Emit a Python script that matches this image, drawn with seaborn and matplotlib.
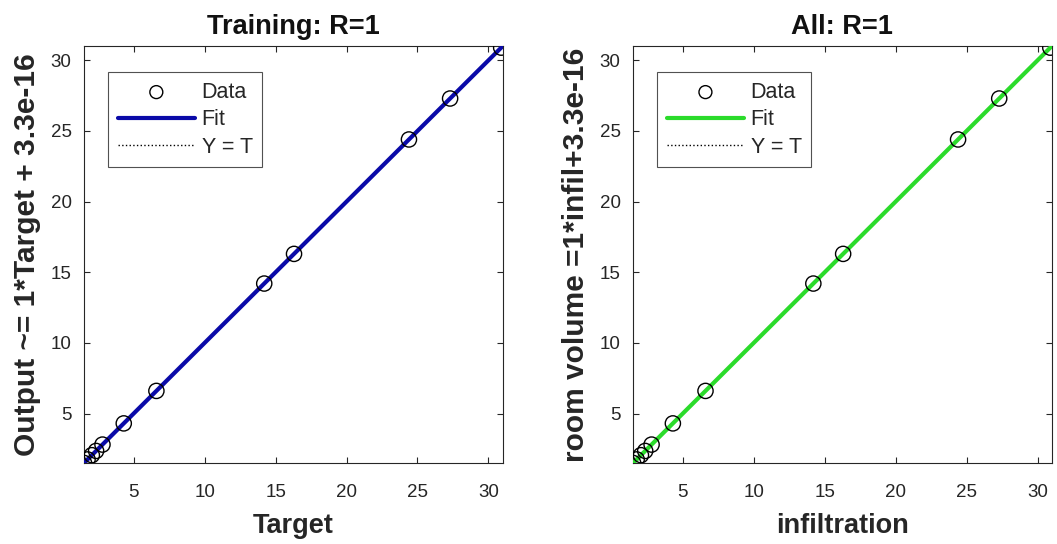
import numpy as np
import pandas as pd
import seaborn as sns
import matplotlib
matplotlib.use("Agg")
import matplotlib.pyplot as plt

# values (outputs equal targets, R=1)
targets = [1.5, 1.75, 2.05, 2.35, 2.8, 4.3, 6.6, 14.2, 16.3, 24.4, 27.3, 30.9]
outputs = [1.5, 1.75, 2.05, 2.35, 2.8, 4.3, 6.6, 14.2, 16.3, 24.4, 27.3, 30.9]
ticks = [5, 10, 15, 20, 25, 30]
titles = ["Training: R=1", "All: R=1"]
xlabels = ["Target", "infiltration"]
ylabels = ["Output ~= 1*Target + 3.3e-16", "room volume =1*infil+3.3e-16"]
fit_colors = ["#0A0AA8", "#2BDB2B"]

sns.set_style("ticks")
plt.rcParams['font.family'] = ['Liberation Sans', 'DejaVu Sans']

df = pd.DataFrame({"T": targets, "Y": outputs})
lims = [1.5, 31.0]
line_df = pd.DataFrame({"T": lims, "Y": lims})

fig = plt.figure(figsize=(10.57, 5.44), dpi=100)
ax1 = fig.add_axes([0.0795, 0.149, 0.396, 0.766])
ax2 = fig.add_axes([0.599, 0.149, 0.396, 0.766])

for i, ax in enumerate([ax1, ax2]):
    # Y = T reference line sits under the fit line
    sns.lineplot(data=line_df, x="T", y="Y", ax=ax, color="black",
                 linestyle=":", linewidth=1.0, label="Y = T", zorder=2)
    # fit line (slope 1, intercept 3.3e-16)
    sns.lineplot(data=line_df, x="T", y="Y", ax=ax, color=fit_colors[i],
                 linewidth=3.0, label="Fit", zorder=3)
    sns.scatterplot(data=df, x="T", y="Y", ax=ax, marker="o", s=120,
                    facecolor="none", edgecolor="black", linewidth=1.0,
                    label="Data", zorder=4)
    ax.set_xlim(lims)
    ax.set_ylim(lims)
    ax.set_xticks(ticks)
    ax.set_yticks(ticks)
    ax.tick_params(direction="in", top=True, right=True, labelsize=13.5,
                   colors="#262626", length=4)
    ax.tick_params(axis="x", pad=15)
    ax.tick_params(axis="y", pad=9)
    for sp in ax.spines.values():
        sp.set_visible(True)
        sp.set_color("#262626")
        sp.set_linewidth(0.8)
    ax.set_title(titles[i], fontsize=19.5, fontweight="bold", color="#111111", pad=9)
    ax.set_xlabel(xlabels[i], fontsize=19.5, fontweight="bold", color="#262626",
                  labelpad=9)
    ax.set_ylabel(ylabels[i], fontsize=21.5, fontweight="bold", color="#262626",
                  labelpad=7)
    h, l = ax.get_legend_handles_labels()
    order = [l.index("Data"), l.index("Fit"), l.index("Y = T")]
    leg = ax.legend([h[k] for k in order], [l[k] for k in order],
                    loc="upper left", bbox_to_anchor=(0.057, 0.938),
                    borderaxespad=0, fontsize=15.5, frameon=True, fancybox=False,
                    edgecolor="#262626", handlelength=3.6, borderpad=0.45,
                    labelspacing=0.3, handletextpad=0.3, markerscale=0.85)
    leg.get_frame().set_linewidth(0.8)

fig.savefig("out.png", dpi=100)
